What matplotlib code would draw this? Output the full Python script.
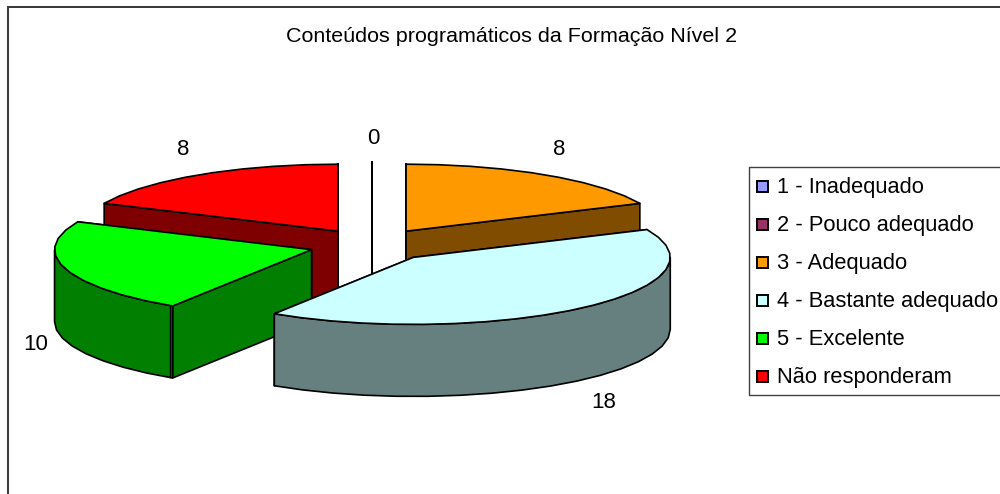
import numpy as np
import matplotlib
matplotlib.use('Agg')
import matplotlib.pyplot as plt
from matplotlib.patches import Polygon, Rectangle

plt.rcParams['font.family'] = ['Liberation Sans', 'DejaVu Sans']

# Data
categories = ['1 - Inadequado', '2 - Pouco adequado', '3 - Adequado',
              '4 - Bastante adequado', '5 - Excelente', 'Não responderam']
values = [0, 0, 8, 18, 10, 8]
top_colors = ['#9999FF', '#993366', '#FF9900', '#CCFFFF', '#00FF00', '#FF0000']
side_colors = ['#4C4C7F', '#4C1933', '#7F4C00', '#667F7F', '#007F00', '#7F0000']
title = 'Conteúdos programáticos da Formação Nível 2'

# Pie geometry in pixels
cx, cy = 372, 245
rx, ry = 257, 67
depth = 72
explode = 63
draw_order = [5, 0, 1, 2, 4, 3]
label_pos = [(373, 138), (373, 138), (559, 149), (604, 402), (36, 344), (183, 149)]

fig = plt.figure(figsize=(10, 4.94), dpi=100)
ax = fig.add_axes([0, 0, 1, 1])
ax.set_xlim(0, 1000)
ax.set_ylim(494, 0)
ax.axis('off')


def arc_points(x0, y0, start, end):
    # angles in degrees, clockwise from 12 o'clock; coarse steps like the original
    n = max(int(abs(end - start) / 7), 1) + 1
    t = np.radians(np.linspace(start, end, n))
    return np.column_stack([x0 + rx * np.sin(t), y0 - ry * np.cos(t)])


def face(points, color, z):
    ax.add_patch(Polygon(points, closed=True, facecolor=color, edgecolor='black',
                         linewidth=1.2, joinstyle='round', zorder=z))


def draw_slice(start, end, top, side, z):
    mid = np.radians((start + end) / 2)
    x0 = cx + explode * np.sin(mid)
    y0 = cy - explode * ry / rx * np.cos(mid)
    arc = arc_points(x0, y0, start, end)
    apex = np.array([x0, y0])
    down = np.array([0, depth])

    # far radial wall first, then near one, rim and top cover what faces away
    for p in sorted([arc[0], arc[-1]], key=lambda q: q[1]):
        face([apex, p, p + down, apex + down], side, z)
    a = max(start, 90)
    b = min(end, 270)
    if b > a:
        rim = arc_points(x0, y0, a, b)
        face(np.vstack([rim, (rim + down)[::-1]]), side, z)
        if start > 90:
            # the original leaves a thin double line where rim and wall meet
            seam = arc_points(x0, y0, start + 0.8, start + 0.8)[0]
            ax.plot([seam[0], seam[0]], [seam[1], seam[1] + depth],
                    color='black', lw=1.0, zorder=z)
    face(np.vstack([apex, arc]), top, z)


angles = np.cumsum([0] + values) / sum(values) * 360
for z, i in enumerate(draw_order):
    draw_slice(angles[i], angles[i + 1], top_colors[i], side_colors[i], z + 2)

for i, v in enumerate(values):
    if i == 1:
        continue
    ax.text(label_pos[i][0], label_pos[i][1], str(v), fontsize=16,
            ha='center', va='center', color='black', zorder=20)

ax.text(511.5, 36.5, title, fontsize=15.45, ha='center', va='center', color='black')

# Frame: only the top and left edges fall inside the picture
ax.plot([8, 1000], [7.5, 7.5], color='black', lw=1.1, zorder=1)
ax.plot([8, 8], [7, 494], color='#404040', lw=1.5, zorder=1)

# Legend
ax.plot([1000, 748.5, 748.5, 1000], [167, 167, 394.5, 394.5], color='#404040', lw=1.0, zorder=1)
legend_y = [186.5, 224.5, 262.5, 300.5, 338.5, 376.5]
for name, color, y in zip(categories, top_colors, legend_y):
    ax.add_patch(Rectangle((756.5, y - 5.5), 11, 11, facecolor=color,
                           edgecolor='black', linewidth=1.4))
    ax.text(777, y + 1, name, fontsize=15.75, ha='left', va='center', color='black')

fig.savefig('out.png', dpi=100)
